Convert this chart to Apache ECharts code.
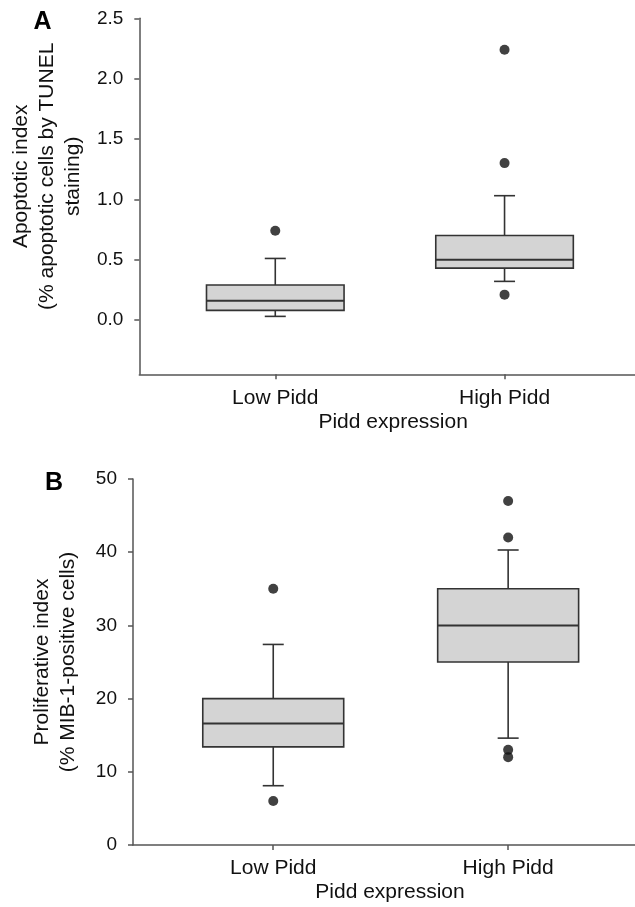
<!DOCTYPE html>
<html>
<head>
<meta charset="utf-8">
<script src="https://cdn.jsdelivr.net/npm/echarts@6/dist/echarts.min.js"></script>
<style>
html, body { margin: 0; padding: 0; background: #fff; }
#chart { width: 635px; height: 907px; }
</style>
</head>
<body>
<div id="chart"></div>
<script>
// ---- data ----
const categories = ['Low Pidd', 'High Pidd'];
const categoryPos = [1, 2];

// Panel A: apoptotic index
const apoptoticMin = [0.03, 0.32];
const apoptoticQ1 = [0.08, 0.43];
const apoptoticMedian = [0.16, 0.50];
const apoptoticQ3 = [0.29, 0.70];
const apoptoticMax = [0.51, 1.03];
const apoptoticOutliers = [[0.74], [2.24, 1.30, 0.21]];
const apoptoticTicks = [0, 0.5, 1.0, 1.5, 2.0, 2.5];

// Panel B: proliferative index
const prolifMin = [8.1, 14.6];
const prolifQ1 = [13.4, 25.0];
const prolifMedian = [16.6, 30.0];
const prolifQ3 = [20.0, 35.0];
const prolifMax = [27.4, 40.3];
const prolifOutliers = [[35, 6], [47, 42, 13, 12]];
const prolifTicks = [0, 10, 20, 30, 40, 50];

// ---- build ----
function boxRows(mn, q1, md, q3, mx) {
  return categoryPos.map((x, i) => [x, mn[i], q1[i], md[i], q3[i], mx[i]]);
}
function outlierRows(outs) {
  const rows = [];
  outs.forEach((vals, i) => vals.forEach(v => rows.push([categoryPos[i], v])));
  return rows;
}

const FONT = '"Liberation Sans", Arial, sans-serif';
const BOX_W = 0.6;      // box width in x-units
const CAP_PX = 21;      // whisker cap width in px
const EDGE = '#333';
const FILL = '#d4d4d4';

function renderBox(params, api) {
  const x = api.value(0);
  const pMin = api.coord([x, api.value(1)]);
  const pQ1 = api.coord([x, api.value(2)]);
  const pMed = api.coord([x, api.value(3)]);
  const pQ3 = api.coord([x, api.value(4)]);
  const pMax = api.coord([x, api.value(5)]);
  const half = api.size([BOX_W, 0])[0] / 2;
  const cx = pMed[0];
  const cap = CAP_PX / 2;
  const ls = { stroke: EDGE, lineWidth: 1.6 };
  return {
    type: 'group',
    children: [
      { type: 'line', shape: { x1: cx, y1: pQ3[1], x2: cx, y2: pMax[1] }, style: ls },
      { type: 'line', shape: { x1: cx - cap, y1: pMax[1], x2: cx + cap, y2: pMax[1] }, style: ls },
      { type: 'line', shape: { x1: cx, y1: pQ1[1], x2: cx, y2: pMin[1] }, style: ls },
      { type: 'line', shape: { x1: cx - cap, y1: pMin[1], x2: cx + cap, y2: pMin[1] }, style: ls },
      { type: 'rect', shape: { x: cx - half, y: pQ3[1], width: half * 2, height: pQ1[1] - pQ3[1] },
        style: { fill: FILL, stroke: EDGE, lineWidth: 1.6 } },
      { type: 'line', shape: { x1: cx - half, y1: pMed[1], x2: cx + half, y2: pMed[1] }, style: { stroke: EDGE, lineWidth: 2 } }
    ]
  };
}

function xAxisCfg(gridIndex, min, max) {
  return {
    type: 'value', gridIndex, min, max,
    name: 'Pidd expression', nameLocation: 'middle', nameGap: 37,
    nameTextStyle: { fontFamily: FONT, fontSize: 21, color: '#111', padding: [0, 0, 0, 12] },
    splitLine: { show: false },
    axisLine: { show: true, onZero: false, lineStyle: { color: '#555', width: 1.5 } },
    axisTick: { show: true, customValues: categoryPos, length: 5, lineStyle: { color: '#555', width: 1.5 } },
    axisLabel: {
      customValues: categoryPos, margin: 13, fontFamily: FONT, fontSize: 21, color: '#111',
      formatter: v => categories[categoryPos.indexOf(v)] || ''
    }
  };
}

function yAxisCfg(gridIndex, min, max, ticks, name, nameGap, pad, fmt) {
  return {
    type: 'value', gridIndex, min, max,
    name, nameLocation: 'middle', nameGap,
    nameTextStyle: { fontFamily: FONT, fontSize: 21, color: '#111', lineHeight: 26, align: 'center', padding: pad },
    splitLine: { show: false },
    axisLine: { show: true, onZero: false, lineStyle: { color: '#555', width: 1.5 } },
    axisTick: { show: true, customValues: ticks, length: 5, lineStyle: { color: '#555', width: 1.5 } },
    axisLabel: { customValues: ticks, margin: 16, fontFamily: FONT, fontSize: 19, color: '#111', formatter: fmt }
  };
}

const chart = echarts.init(document.getElementById('chart'), null, { renderer: 'canvas' });
chart.setOption({
  animation: false,
  backgroundColor: '#fff',
  grid: [
    { left: 135, right: 0, top: 18.3, height: 356 },
    { left: 133, right: 0, top: 479, height: 366 }
  ],
  xAxis: [xAxisCfg(0, 0.407, 2.569), xAxisCfg(1, 0.403, 2.54)],
  yAxis: [
    yAxisCfg(0, -0.45, 2.5, apoptoticTicks,
      'Apoptotic index\n(% apoptotic cells by TUNEL\nstaining)', 51, [0, 0, 0, 40], v => v.toFixed(1)),
    yAxisCfg(1, 0, 50, prolifTicks,
      'Proliferative index\n(% MIB-1-positive cells)', 52, [0, 0, 0, 0], v => String(v))
  ],
  graphic: [
    { type: 'text', x: 42.5, y: 22, style: { text: 'A', fontFamily: FONT, fontSize: 25, fontWeight: 'bold', fill: '#000', align: 'center', verticalAlign: 'middle' } },
    { type: 'text', x: 54, y: 483, style: { text: 'B', fontFamily: FONT, fontSize: 25, fontWeight: 'bold', fill: '#000', align: 'center', verticalAlign: 'middle' } }
  ],
  series: [
    { type: 'custom', xAxisIndex: 0, yAxisIndex: 0, renderItem: renderBox,
      data: boxRows(apoptoticMin, apoptoticQ1, apoptoticMedian, apoptoticQ3, apoptoticMax), z: 2 },
    { type: 'scatter', xAxisIndex: 0, yAxisIndex: 0, symbolSize: 10, itemStyle: { color: '#111' },
      data: outlierRows(apoptoticOutliers), z: 3 },
    { type: 'custom', xAxisIndex: 1, yAxisIndex: 1, renderItem: renderBox,
      data: boxRows(prolifMin, prolifQ1, prolifMedian, prolifQ3, prolifMax), z: 2 },
    { type: 'scatter', xAxisIndex: 1, yAxisIndex: 1, symbolSize: 10, itemStyle: { color: '#111' },
      data: outlierRows(prolifOutliers), z: 3 }
  ]
});
</script>
</body>
</html>
